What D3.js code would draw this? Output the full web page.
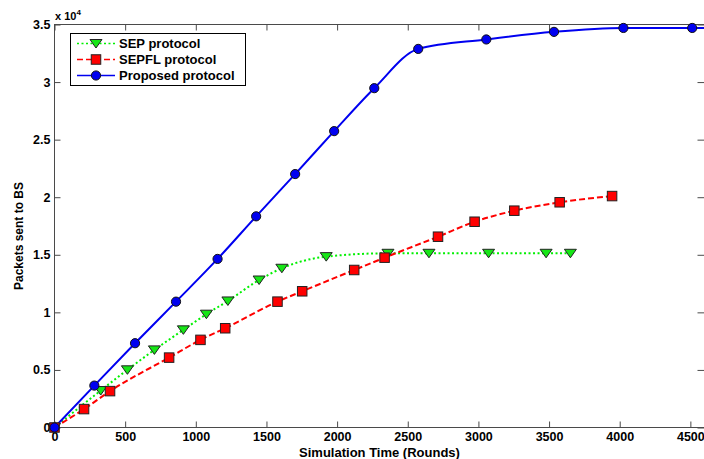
<!DOCTYPE html>
<html>
<head>
<meta charset="utf-8">
<script src="https://cdn.jsdelivr.net/npm/d3@7"></script>
<style>
body{margin:0;background:#fff;}
text{font-family:"Liberation Sans",Arial,sans-serif;font-weight:bold;}
</style>
</head>
<body>
<div class="packets-plot"></div>
<script>
// values (rounds, packets)
const sepRounds = [0, 327, 516, 707, 912, 1075, 1227, 1448, 1609, 1923, 2360, 2650, 3072, 3479, 3651];
const sepPackets = [0, 3210, 5010, 6740, 8480, 9840, 10990, 12810, 13830, 14840, 15130, 15130, 15130, 15130, 15130];

const sepflRounds = [0, 209, 393, 811, 1033, 1208, 1578, 1753, 2121, 2336, 2714, 2973, 3254, 3575, 3946];
const sepflPackets = [0, 1600, 3160, 6070, 7610, 8620, 10930, 11830, 13680, 14750, 16570, 17870, 18830, 19560, 20100];

const propRounds = [0, 282, 570, 860, 1154, 1427, 1703, 1979, 2263, 2574, 3056, 3535, 4026, 4513];
const propPackets = [0, 3640, 7320, 10930, 14640, 18340, 22010, 25740, 29470, 32880, 33700, 34360, 34700, 34700];
// line keeps going past the right edge
const propTailRound = 4600, propTailPackets = 34700;

const xTicks = [0, 500, 1000, 1500, 2000, 2500, 3000, 3500, 4000, 4500];
const yTicks = [0, 5000, 10000, 15000, 20000, 25000, 30000, 35000];
const seriesNames = ["SEP protocol", "SEPFL protocol", "Proposed protocol"];

const width = 704;
const height = 459;
const plotLeft = 54.5, plotRight = 704.5, plotTop = 24.5, plotBottom = 427.5;

const svg = d3.select('.packets-plot')
	.append('svg')
	.attr('width', width)
	.attr('height', height);

const x = d3.scaleLinear().domain([0, 4600]).range([plotLeft, plotRight]);
const y = d3.scaleLinear().domain([0, 35000]).range([plotBottom, plotTop]);

svg.append("defs").append("clipPath").attr("id", "plotclip")
	.append("rect")
	.attr("x", plotLeft).attr("y", plotTop)
	.attr("width", plotRight - plotLeft).attr("height", plotBottom - plotTop);

// axes box
svg.append("rect")
	.attr("x", plotLeft).attr("y", plotTop)
	.attr("width", plotRight - plotLeft).attr("height", plotBottom - plotTop)
	.attr("fill", "none")
	.attr("stroke", "#4a4a4a");

const axisColor = "#4a4a4a";
function styleAxis(g){
	g.select(".domain").remove();
	g.selectAll(".tick line").attr("stroke", axisColor);
	g.selectAll(".tick text").attr("fill", "#000").attr("font-size", 12.5)
		.attr("font-family", '"Liberation Sans",Arial,sans-serif').attr("font-weight", "bold");
}

svg.append("g")
	.attr("transform", `translate(0,${plotBottom})`)
	.call(d3.axisBottom(x).tickValues(xTicks).tickSize(-6).tickPadding(5).tickFormat(d3.format("d")))
	.call(styleAxis);
svg.append("g")
	.attr("transform", `translate(0,${plotTop})`)
	.call(d3.axisTop(x).tickValues(xTicks).tickSize(-6).tickFormat(""))
	.call(styleAxis);
svg.append("g")
	.attr("transform", `translate(${plotLeft},0)`)
	.call(d3.axisLeft(y).tickValues(yTicks).tickSize(-6).tickPadding(4).tickFormat(d => d / 10000))
	.call(styleAxis);
svg.append("g")
	.attr("transform", `translate(${plotRight},0)`)
	.call(d3.axisRight(y).tickValues(yTicks).tickSize(-7).tickFormat(""))
	.call(styleAxis);

// exponent
const expo = svg.append("text")
	.attr("x", 55).attr("y", 20)
	.attr("font-size", 11);
expo.append("tspan").text("x 10");
expo.append("tspan").attr("font-size", 8).attr("dy", -5).text("4");

svg.append("text")
	.attr("x", (plotLeft + plotRight) / 2)
	.attr("y", 457)
	.attr("text-anchor", "middle")
	.attr("font-size", 13)
	.text("Simulation Time (Rounds)");

svg.append("text")
	.attr("transform", "translate(23,236) rotate(-90)")
	.attr("text-anchor", "middle")
	.attr("font-size", 12)
	.text("Packets sent to BS");

const line = d3.line()
	.x(d => x(d[0]))
	.y(d => y(d[1]))
	.curve(d3.curveMonotoneX);

const sepData = sepRounds.map((r, i) => [r, sepPackets[i]]);
const sepflData = sepflRounds.map((r, i) => [r, sepflPackets[i]]);
const propData = propRounds.map((r, i) => [r, propPackets[i]]);

const triPath = "M-6,-4L6,-4L0,4.5Z";

const plot = svg.append("g").attr("clip-path", "url(#plotclip)");

// SEP
plot.append("path")
	.attr("d", line(sepData))
	.attr("fill", "none")
	.attr("stroke", "#00f000")
	.attr("stroke-width", 2)
	.attr("stroke-dasharray", "2,2.5");
svg.selectAll(".sep")
	.data(sepData)
	.enter()
	.append("path")
	.attr("class", "sep")
	.attr("d", triPath)
	.attr("transform", d => `translate(${x(d[0])},${y(d[1])})`)
	.attr("fill", "#16e616")
	.attr("stroke", "#222");

// SEPFL
plot.append("path")
	.attr("d", line(sepflData))
	.attr("fill", "none")
	.attr("stroke", "#f00")
	.attr("stroke-width", 2)
	.attr("stroke-dasharray", "6,3");
svg.selectAll(".sepfl")
	.data(sepflData)
	.enter()
	.append("rect")
	.attr("class", "sepfl")
	.attr("x", d => x(d[0]) - 4.75)
	.attr("y", d => y(d[1]) - 4.75)
	.attr("width", 9.5)
	.attr("height", 9.5)
	.attr("fill", "#f00")
	.attr("stroke", "#222");

// Proposed
plot.append("path")
	.attr("d", line(propData.concat([[propTailRound, propTailPackets]])))
	.attr("fill", "none")
	.attr("stroke", "#0000f0")
	.attr("stroke-width", 2);
svg.selectAll(".prop")
	.data(propData)
	.enter()
	.append("circle")
	.attr("class", "prop")
	.attr("cx", d => x(d[0]))
	.attr("cy", d => y(d[1]))
	.attr("r", 4.6)
	.attr("fill", "#0000f0")
	.attr("stroke", "#111");

// legend
const legend = svg.append("g");
legend.append("rect")
	.attr("x", 70.5).attr("y", 33.5)
	.attr("width", 175).attr("height", 52)
	.attr("fill", "#fff")
	.attr("stroke", "#000");

const legRows = [43.5, 59.5, 75.5];
const legColors = ["#00f000", "#f00", "#0000f0"];
const legDash = ["2,2.5", "6,3", null];

legRows.forEach((ly, i) => {
	legend.append("line")
		.attr("x1", 77).attr("x2", 115)
		.attr("y1", ly).attr("y2", ly)
		.attr("stroke", legColors[i])
		.attr("stroke-width", 1.5)
		.attr("stroke-dasharray", legDash[i]);
	if(i == 0){
		legend.append("path").attr("d", triPath)
			.attr("transform", `translate(96,${ly})`)
			.attr("fill", "#16e616").attr("stroke", "#222");
	}else if(i == 1){
		legend.append("rect")
			.attr("x", 96 - 4.75).attr("y", ly - 4.75)
			.attr("width", 9.5).attr("height", 9.5)
			.attr("fill", "#f00").attr("stroke", "#222");
	}else{
		legend.append("circle")
			.attr("cx", 96).attr("cy", ly).attr("r", 4.6)
			.attr("fill", "#0000f0").attr("stroke", "#111");
	}
	legend.append("text")
		.attr("x", 119)
		.attr("y", ly + 4.6)
		.attr("font-size", 13)
		.text(seriesNames[i]);
});
</script>
</body>
</html>
